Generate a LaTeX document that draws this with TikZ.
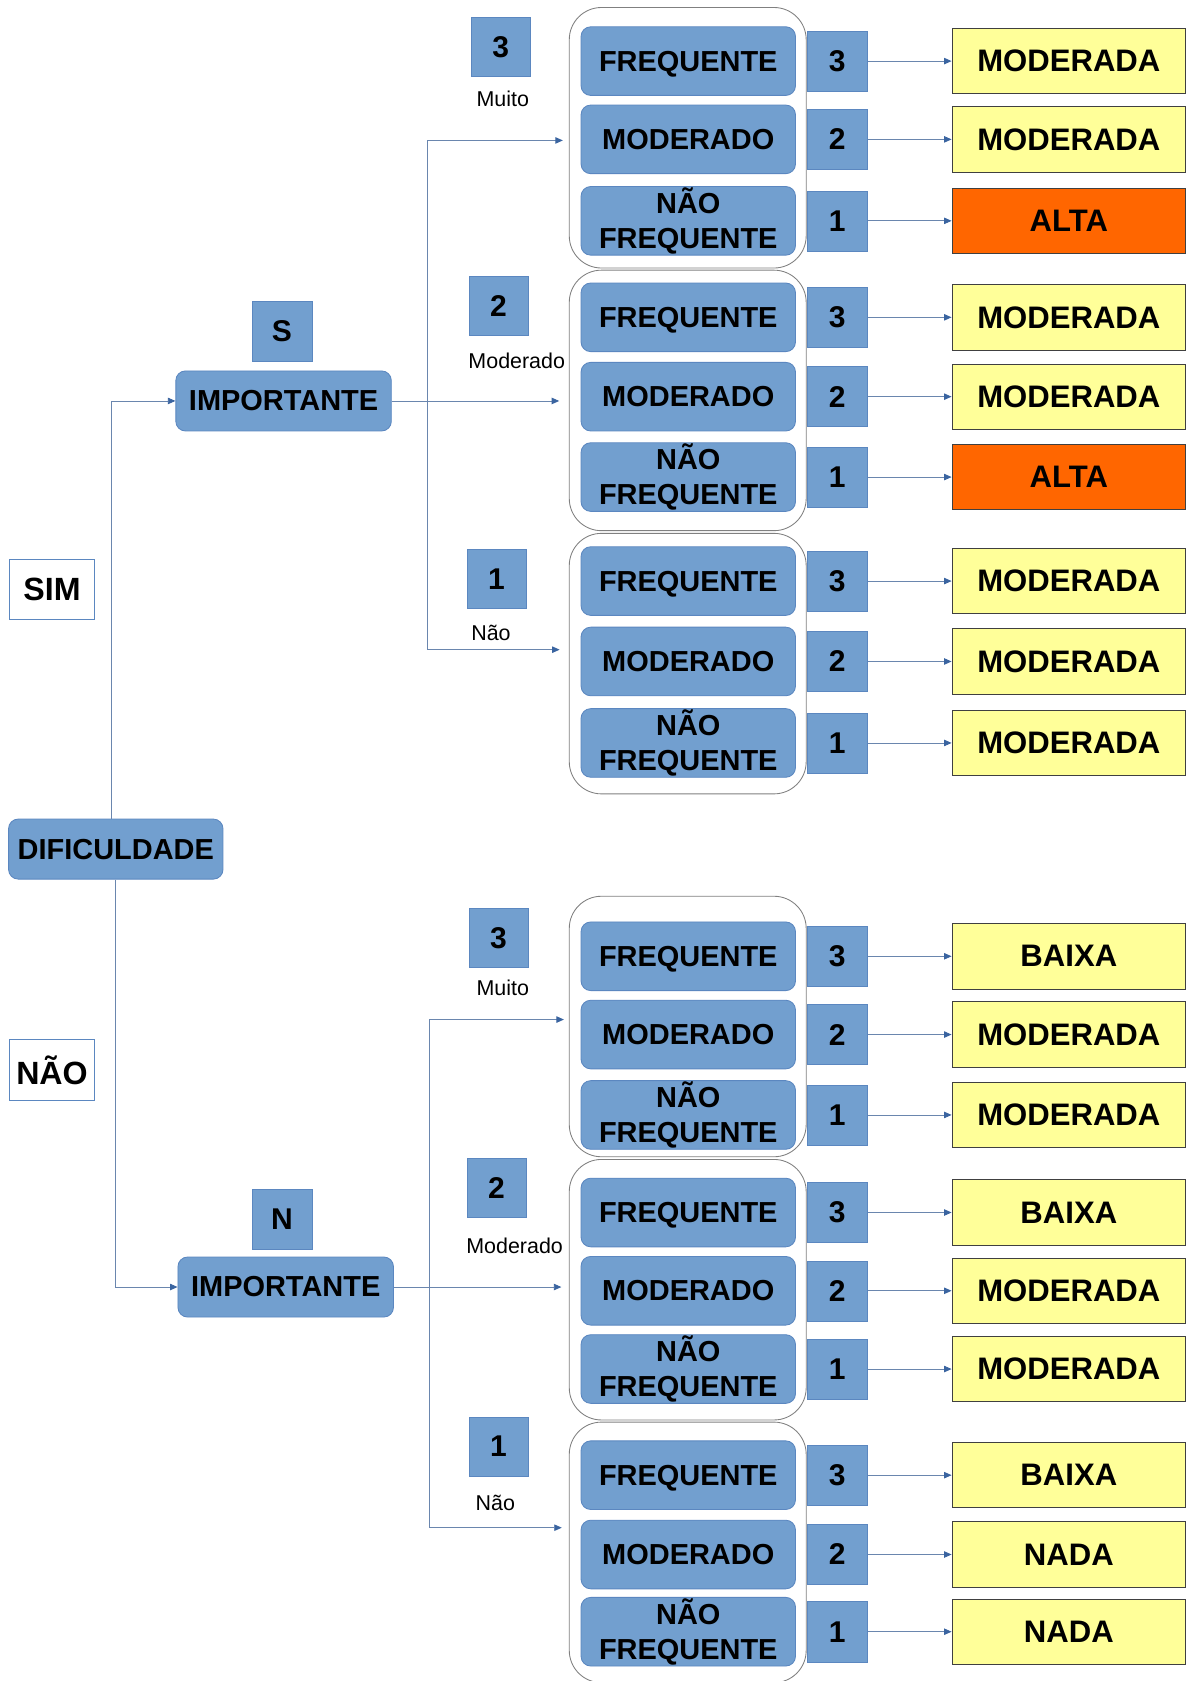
\documentclass[tikz,border=0pt]{standalone}
\usepackage{fontspec}
\setmainfont{Liberation Sans}
\usetikzlibrary{arrows.meta}
\definecolor{boxblue}{HTML}{729FCF}
\definecolor{boxedge}{HTML}{5B87C0}
\definecolor{resyellow}{HTML}{FFFF99}
\definecolor{resorange}{HTML}{FF6600}
\definecolor{conncol}{HTML}{6A86AE}
\definecolor{tipcol}{HTML}{3A64A0}
\definecolor{grpedge}{HTML}{808080}
\tikzset{
 bluebox/.style={draw=boxedge, fill=boxblue, rounded corners=9pt, line width=0.8pt, minimum width=200pt, minimum height=64pt, inner sep=0pt, align=center, font=\fontsize{27}{33}\selectfont\bfseries},
 oneline/.style={text height=19.4pt, text depth=0pt},
 numbox/.style={draw=boxedge, fill=boxblue, minimum width=56pt, minimum height=56pt, inner sep=0pt, font=\fontsize{28}{30}\selectfont\bfseries},
 grp/.style={draw=grpedge, fill=white, rounded corners=30pt, minimum width=221pt, minimum height=243pt, inner sep=0pt, line width=0.8pt},
 resbox/.style={draw=black!75, line width=0.8pt, minimum width=218pt, minimum height=61pt, inner sep=0pt, font=\fontsize{29}{31}\selectfont\bfseries},
 lvl/.style={font=\fontsize{20}{22}\selectfont, inner sep=0pt},
 answer/.style={draw=boxedge, fill=white, line width=0.8pt, minimum width=79pt, minimum height=56pt, inner sep=0pt, font=\fontsize{30}{32}\selectfont\bfseries},
 conn/.style={draw=conncol, line width=0.8pt},
 arr/.style={conn, -{Triangle[length=7pt,width=6pt,color=tipcol]}},
}
\begin{document}
\begin{tikzpicture}[x=1pt,y=-1pt]
\useasboundingbox (0,0) rectangle (1106,1568);
\fill[white] (0,0) rectangle (1106,1568);

% groups of frequency boxes
\foreach \g/\gy/\ya/\yb/\yc/\ra/\rb/\rc/\ka/\kb/\kc in {
 1/128.5/57/130/206/MODERADA/MODERADA/ALTA/resyellow/resyellow/resorange,
 2/373.5/296/370/445/MODERADA/MODERADA/ALTA/resyellow/resyellow/resorange,
 3/619/542/617/693/MODERADA/MODERADA/MODERADA/resyellow/resyellow/resyellow,
 4/957.5/892/965/1040/BAIXA/MODERADA/MODERADA/resyellow/resyellow/resyellow,
 5/1203/1131/1204/1277/BAIXA/MODERADA/MODERADA/resyellow/resyellow/resyellow,
 6/1448/1376/1450/1522/BAIXA/NADA/NADA/resyellow/resyellow/resyellow}
{
 \node[grp] (g\g) at (641.5,\gy) {};
 \node[bluebox, oneline] (fr\g) at (642,\ya) {FREQUENTE};
 \node[bluebox] (mo\g) at (642,\yb) {MODERADO};
 \node[bluebox] (nf\g) at (642,\yc) {NÃO\\FREQUENTE};
 \node[numbox] (na\g) at (781,\ya) {3};
 \node[numbox] (nb\g) at (781,\yb) {2};
 \node[numbox] (nc\g) at (781,\yc) {1};
 \node[resbox, fill=\ka] (ra\g) at (997,\ya) {\ra};
 \node[resbox, fill=\kb] (rb\g) at (997,\yb) {\rb};
 \node[resbox, fill=\kc] (rc\g) at (997,\yc) {\rc};
 \draw[arr] (na\g.east) -- (ra\g.west);
 \draw[arr] (nb\g.east) -- (rb\g.west);
 \draw[arr] (nc\g.east) -- (rc\g.west);
}

% level boxes and labels
\node[numbox, minimum width=55pt, minimum height=55pt] (lv1) at (467,44) {3};
\node[lvl] (lt1) at (469,92) {Muito};
\node[numbox, minimum width=55pt, minimum height=55pt] (lv2) at (465,285) {2};
\node[lvl] (lt2) at (482,337) {Moderado};
\node[numbox, minimum width=55pt, minimum height=55pt] (lv3) at (463,540) {1};
\node[lvl] (lt3) at (458,590) {Não};
\node[numbox, minimum width=55pt, minimum height=55pt] (lv4) at (465,875) {3};
\node[lvl] (lt4) at (469,921) {Muito};
\node[numbox, minimum width=55pt, minimum height=55pt] (lv5) at (463,1108) {2};
\node[lvl] (lt5) at (480,1162) {Moderado};
\node[numbox, minimum width=55pt, minimum height=55pt] (lv6) at (465,1349) {1};
\node[lvl] (lt6) at (462,1402) {Não};

% left part
\node[answer] (sim) at (48.5,550) {SIM};
\node[answer] (nao) at (48.5,998) {NÃO};
\node[bluebox, minimum height=56pt] (dif) at (108,792) {DIFICULDADE};
\node[numbox] (s) at (263,309) {S};
\node[numbox] (n) at (263,1137) {N};
\node[bluebox, minimum width=201pt, minimum height=56pt] (imp1) at (264.5,374) {IMPORTANTE};
\node[bluebox, minimum width=201pt, minimum height=56pt] (imp2) at (266.5,1200.5) {IMPORTANTE};

\draw[arr] ([xshift=-4pt]dif.north) |- (imp1.west);
\draw[arr] (dif.south) |- (imp2.west);

% branches from IMPORTANTE (S)
\path (imp1.east) ++(33,0) coordinate (j1);
\coordinate (t1) at (525,131);
\coordinate (b1) at (522,606);
\draw[arr] (imp1.east) -- ([xshift=-9pt]imp1.east -| g2.west);
\draw[arr] (j1) |- (t1);
\draw[arr] (j1) |- (b1);

% branches from IMPORTANTE (N)
\path (imp2.east) ++(33,0) coordinate (j2);
\coordinate (t2) at (526,951);
\coordinate (b2) at (524,1425);
\draw[arr] (imp2.east) -- ([xshift=-7pt]imp2.east -| g5.west);
\draw[arr] (j2) |- (t2);
\draw[arr] (j2) |- (b2);
\end{tikzpicture}
\end{document}
